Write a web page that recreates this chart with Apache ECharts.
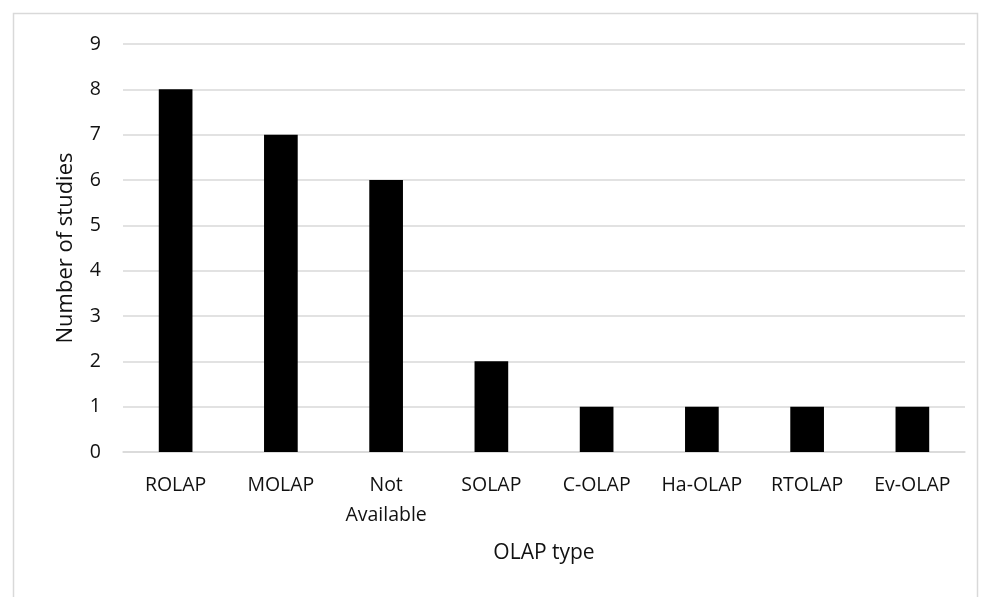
<!DOCTYPE html>
<html><head><meta charset="utf-8">
<script src="https://cdn.jsdelivr.net/npm/echarts@6/dist/echarts.min.js"></script>
<style>html,body{margin:0;padding:0;background:#fff}#c{width:988px;height:597px}</style>
</head><body><div id="c"></div>
<script>
const categories = ['ROLAP','MOLAP','Not\nAvailable','SOLAP','C-OLAP','Ha-OLAP','RTOLAP','Ev-OLAP'];
const studies = [8,7,6,2,1,1,1,1];
const yTicks = [0,1,2,3,4,5,6,7,8,9];
const font = 'Open Sans';
const chart = echarts.init(document.getElementById('c'));
chart.setOption({
  animation:false,
  graphic:[{type:'rect',shape:{x:13.5,y:13.5,width:964,height:600},style:{fill:'none',stroke:'#d9d9d9',lineWidth:1.5},silent:true}],
  grid:{left:123,right:23,top:44,bottom:145},
  xAxis:{type:'category',data:categories,
    name:'OLAP type',nameLocation:'middle',nameGap:91,
    nameTextStyle:{fontFamily:font,fontSize:21,color:'#111'},
    axisLine:{lineStyle:{color:'#d9d9d9',width:1.5}},axisTick:{show:false},
    axisLabel:{interval:0,hideOverlap:false,fontFamily:font,fontSize:19.5,color:'#111',margin:18,lineHeight:30}},
  yAxis:{type:'value',min:0,max:9,interval:1,
    name:'Number of studies',nameLocation:'middle',nameGap:46,nameRotate:90,
    nameTextStyle:{fontFamily:font,fontSize:22,color:'#111'},
    axisLine:{show:false},axisTick:{show:false},
    splitLine:{lineStyle:{color:'#d9d9d9',width:1.5}},
    axisLabel:{fontFamily:font,fontSize:19.5,color:'#111',margin:22,
      formatter:v=>yTicks.includes(v)?String(v):''}},
  series:[{type:'bar',data:studies,barWidth:'32%',itemStyle:{color:'#000'}}]
});
</script></body></html>
